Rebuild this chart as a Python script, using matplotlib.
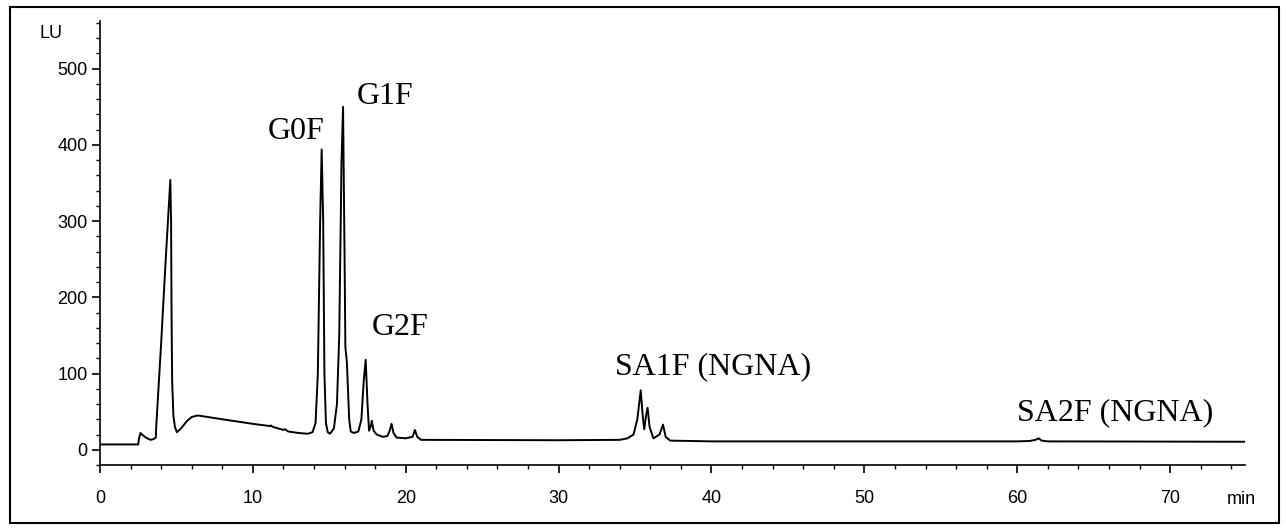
import matplotlib
matplotlib.use("Agg")
import matplotlib.pyplot as plt
from matplotlib.patches import Rectangle
from matplotlib.ticker import MultipleLocator

# trace (time in min, signal in LU)
time_min = [0.0, 2.5, 2.55, 2.65, 2.75, 3.0, 3.3, 3.5, 3.65, 3.68, 4.0, 4.3, 4.6,
            4.65, 4.68, 4.72, 4.8, 4.9, 5.03, 5.3, 5.7, 6.0, 6.4, 8.0, 10.0, 11.15,
            11.2, 11.3, 12.0, 12.1, 12.3, 13.0, 13.6, 13.9, 14.1, 14.25, 14.4, 14.5,
            14.6, 14.68, 14.78, 14.9, 15.05, 15.3, 15.5, 15.65, 15.8, 15.9, 16.0,
            16.05, 16.1, 16.15, 16.3, 16.4, 16.6, 16.9, 17.1, 17.25, 17.38, 17.5,
            17.6, 17.7, 17.78, 17.9, 18.1, 18.5, 18.8, 18.95, 19.07, 19.2, 19.4,
            20.0, 20.45, 20.6, 20.75, 21.0, 30.0, 34.0, 34.5, 34.9, 35.15, 35.37,
            35.5, 35.6, 35.72, 35.82, 35.95, 36.2, 36.6, 36.83, 37.0, 37.3, 40.0,
            60.0, 60.8, 61.2, 61.4, 61.6, 62.0, 74.9]
signal_lu = [7, 7, 15, 22, 20, 16, 13, 14, 16, 31, 140, 250, 354,
             300, 180, 90, 45, 30, 23, 28, 38, 43, 45, 40, 34, 31,
             32, 30, 26, 27, 24, 22, 21, 23, 35, 100, 300, 394,
             300, 100, 35, 23, 21, 28, 60, 150, 380, 450, 250,
             135, 125, 115, 40, 24, 22, 24, 40, 90, 118, 60,
             25, 30, 38, 25, 20, 17, 18, 25, 34, 22, 16,
             15, 17, 26, 17, 13, 12.5, 13, 15, 20, 40, 78,
             45, 27, 45, 55, 30, 15, 20, 33, 17, 12, 11,
             11, 11.5, 13, 15, 12, 11, 10.5]

peak_names = ["G0F", "G1F", "G2F", "SA1F (NGNA)", "SA2F (NGNA)"]
peak_label_x = [12.84, 18.68, 19.6, 40.1, 66.4]
peak_label_y = [418, 463, 161, 109, 49]

W, H = 1286, 531
fig = plt.figure(figsize=(W / 100, H / 100), dpi=100)
ax = fig.add_axes([100 / W, 1 - 465 / H, 1145 / W, (465 - 20.7) / H])

ax.plot(time_min, signal_lu, color="black", lw=1.4)

ax.set_xlim(0, 74.9)
ax.set_ylim(-20, 563)
ax.xaxis.set_major_locator(MultipleLocator(10))
ax.xaxis.set_minor_locator(MultipleLocator(2))
ax.yaxis.set_major_locator(MultipleLocator(100))
ax.yaxis.set_minor_locator(MultipleLocator(20))
for s in ["top", "right"]:
    ax.spines[s].set_visible(False)
for s in ["left", "bottom"]:
    ax.spines[s].set_linewidth(1.2)
ax.tick_params(which="major", length=6, width=1.2, labelsize=13)
ax.tick_params(which="minor", length=3, width=1)
ax.tick_params(axis="x", which="major", pad=12)
ax.tick_params(axis="y", which="major", pad=3)
for lab in ax.get_xticklabels() + ax.get_yticklabels():
    lab.set_family("Liberation Sans")

for name, x, y in zip(peak_names, peak_label_x, peak_label_y):
    ax.text(x, y, name, ha="center", va="center", fontsize=23,
            family="Liberation Serif")

fig.text(51 / W, 1 - 33 / H, "LU", ha="center", va="center", fontsize=13,
         family="Liberation Sans")
fig.text(1241 / W, 1 - 499 / H, "min", ha="center", va="center", fontsize=13,
         family="Liberation Sans")

fig.patches.append(Rectangle((10 / W, 1 - 523 / H), 1269 / W, 516 / H,
                             transform=fig.transFigure, fill=False,
                             edgecolor="black", lw=1.5))

fig.savefig("out.png", dpi=100)
